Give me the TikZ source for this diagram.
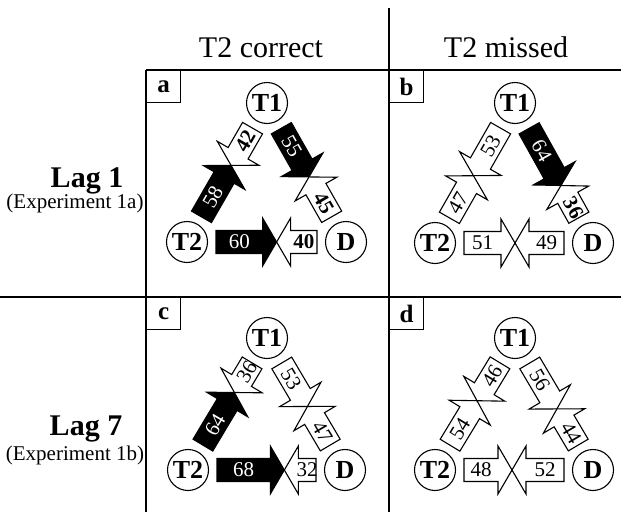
\documentclass[tikz,border=0pt]{standalone}
\usepackage{fontspec}
\setmainfont{Liberation Serif}
\usetikzlibrary{calc}
\newcommand\dz{29}
\newcommand\hl{14}
\newcommand\hw{24}
\newcommand\bw{11.5}
\tikzset{
 conn/.style={draw=black,line width=1.1pt,line join=miter},
 arrB/.style={fill=black}, txtB/.style={text=white},
 arrW/.style={fill=white}, txtW/.style={text=black},
 arrX/.style={fill=white}, txtX/.style={text=black,font=\fontsize{21}{21}\selectfont\bfseries},
 numtxt/.style={inner sep=0pt,font=\fontsize{21}{21}\selectfont},
 stim/.style={circle,draw,line width=1.1pt,fill=white,minimum size=41pt,inner sep=0pt,font=\fontsize{26}{26}\selectfont\bfseries},
 plabel/.style={draw,line width=1.1pt,minimum width=34pt,minimum height=32pt,inner sep=0pt,anchor=north west,font=\fontsize{25}{25}\selectfont\bfseries},
 sepline/.style={line width=1.1pt},
}
\newcommand\apair[6]{%
 \path let \p1=(#1.center), \p2=(#2.center) in
 \pgfextra{\pgfmathsetmacro\tmpa{atan2(\y2-\y1,\x2-\x1)}\xdef\pang{\tmpa}%
 \pgfmathsetmacro\tmpb{veclen(\x2-\x1,\y2-\y1)}\xdef\plen{\tmpb}};
 \pgfmathsetmacro\pL{\plen-2*\dz}%
 \pgfmathsetmacro\la{#3/100*\pL}%
 \pgfmathsetmacro\lb{\pL-\la}%
 \pgfmathsetmacro\tang{\pang>90 ? \pang-180 : (\pang<-90 ? \pang+180 : \pang)}%
 \pgfmathsetmacro\pangb{\pang+180}%
 \begin{scope}[shift={(#1.center)},rotate=\pang]
 \draw[conn,arr#5] (\dz,-\bw) -- (\dz+\la-\hl,-\bw) -- (\dz+\la-\hl,-\hw) -- (\dz+\la,0) -- (\dz+\la-\hl,\hw) -- (\dz+\la-\hl,\bw) -- (\dz,\bw) -- cycle;
 \node[numtxt,txt#5,rotate=\tang] at (\dz+\la/2-\hl/2,0) {#3};
 \end{scope}
 \begin{scope}[shift={(#2.center)},rotate=\pangb]
 \draw[conn,arr#6] (\dz,-\bw) -- (\dz+\lb-\hl,-\bw) -- (\dz+\lb-\hl,-\hw) -- (\dz+\lb,0) -- (\dz+\lb-\hl,\hw) -- (\dz+\lb-\hl,\bw) -- (\dz,\bw) -- cycle;
 \node[numtxt,txt#6,rotate=\tang] at (\dz+\lb/2-\hl/2,0) {#4};
 \end{scope}
}
\begin{document}
\begin{tikzpicture}[x=1pt,y=-1pt]
\useasboundingbox[fill=white] (0,0) rectangle (621,512);
% frame lines
\coordinate (vt) at (389,8);
\coordinate (vb) at (389,512);
\coordinate (lt) at (146,70);
\coordinate (lb) at (146,512);
\coordinate (ht1) at (146,70);
\coordinate (ht2) at (621,70);
\coordinate (hm1) at (0,297);
\coordinate (hm2) at (621,297);
\draw[sepline] (vt) -- (vb);
\draw[sepline] (lt) -- (lb);
\draw[sepline] (ht1) -- (ht2);
\draw[sepline] (hm1) -- (hm2);
% headers
\node[font=\fontsize{30}{30}\selectfont,anchor=base] (hc) at (261,57) {T2 correct};
\node[font=\fontsize{30}{30}\selectfont,anchor=base] (hmiss) at (506,57) {T2 missed};
\node[font=\fontsize{30}{30}\selectfont\bfseries,anchor=base] (l1) at (87,187) {Lag 1};
\node[font=\fontsize{21}{21}\selectfont,anchor=base] (e1) at (75,208) {(Experiment 1a)};
\node[font=\fontsize{30}{30}\selectfont\bfseries,anchor=base] (l7) at (86,435) {Lag 7};
\node[font=\fontsize{21}{21}\selectfont,anchor=base] (e7) at (75,460) {(Experiment 1b)};
% panel labels
\node[plabel] (pa) at (146,70) {a};
\node[plabel] (pb) at (389,70) {b};
\node[plabel] (pc) at (146,297) {c};
\node[plabel] (pd) at (389,297) {d};
% stimuli nodes
\node[stim] (aT1) at (267,103) {T1};
\node[stim] (aT2) at (187,242) {T2};
\node[stim] (aD) at (346,242) {D};
\node[stim] (bT1) at (515,103) {T1};
\node[stim] (bT2) at (435,243) {T2};
\node[stim] (bD) at (593,243) {D};
\node[stim] (cT1) at (267,338) {T1};
\node[stim] (cT2) at (188,470) {T2};
\node[stim] (cD) at (345,470) {D};
\node[stim] (dT1) at (515,338) {T1};
\node[stim] (dT2) at (435,470) {T2};
\node[stim] (dD) at (593,470) {D};
% panel a
\apair{aT2}{aT1}{58}{42}{B}{X}
\apair{aT1}{aD}{55}{45}{B}{X}
\apair{aT2}{aD}{60}{40}{B}{X}
% panel b
\apair{bT2}{bT1}{47}{53}{W}{W}
\apair{bT1}{bD}{64}{36}{B}{X}
\apair{bT2}{bD}{51}{49}{W}{W}
% panel c
\apair{cT2}{cT1}{64}{36}{B}{W}
\apair{cT1}{cD}{53}{47}{W}{W}
\apair{cT2}{cD}{68}{32}{B}{W}
% panel d
\apair{dT2}{dT1}{54}{46}{W}{W}
\apair{dT1}{dD}{56}{44}{W}{W}
\apair{dT2}{dD}{48}{52}{W}{W}
\end{tikzpicture}
\end{document}
